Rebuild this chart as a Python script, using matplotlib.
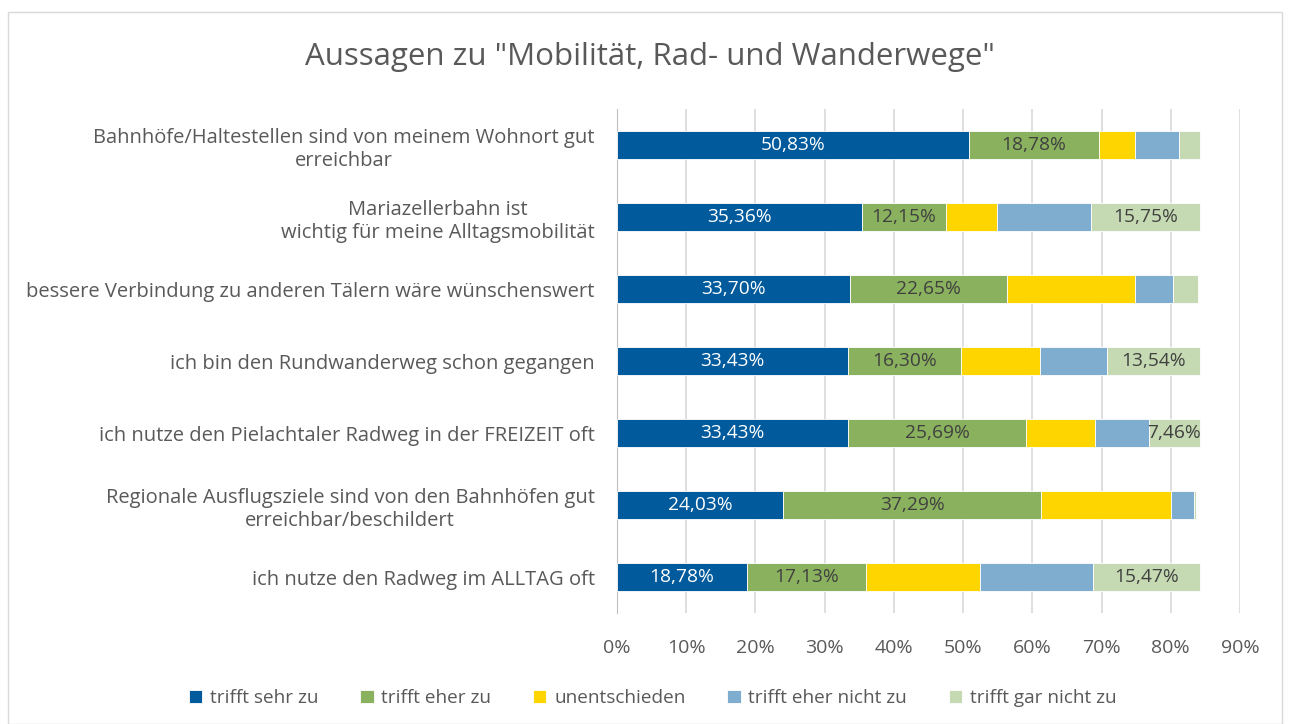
import numpy as np
import matplotlib.pyplot as plt
from matplotlib.patches import Rectangle

# --- DATA ---
categories = [
    "Bahnhöfe/Haltestellen sind von meinem Wohnort gut\nerreichbar",
    "Mariazellerbahn ist\nwichtig für meine Alltagsmobilität",
    "bessere Verbindung zu anderen Tälern wäre wünschenswert",
    "ich bin den Rundwanderweg schon gegangen",
    "ich nutze den Pielachtaler Radweg in der FREIZEIT oft",
    "Regionale Ausflugsziele sind von den Bahnhöfen gut\nerreichbar/beschildert",
    "ich nutze den Radweg im ALLTAG oft",
]
series_names = ["trifft sehr zu", "trifft eher zu", "unentschieden",
                "trifft eher nicht zu", "trifft gar nicht zu"]

sehr_zu = [50.83, 35.36, 33.70, 33.43, 33.43, 24.03, 18.78]
eher_zu = [18.78, 12.15, 22.65, 16.30, 25.69, 37.29, 17.13]
unentschieden = [5.25, 7.46, 18.51, 11.33, 9.94, 18.78, 16.57]
eher_nicht_zu = [6.35, 13.54, 5.52, 9.67, 7.73, 3.31, 16.30]
gar_nicht_zu = [3.04, 15.75, 3.59, 13.54, 7.46, 0.28, 15.47]

# which segments carry a data label (as in the original)
show_labels = [
    [True] * 7,
    [True] * 7,
    [False] * 7,
    [False] * 7,
    [False, True, False, True, True, False, True],
]

colors = ["#005A9C", "#8AB15E", "#FFD500", "#7FADCF", "#C5DAB2"]
label_colors = ["white", "#404040", "#404040", "#404040", "#404040"]

plt.rcParams['font.family'] = ['Open Sans', 'DejaVu Sans']

fig = plt.figure(figsize=(12.9, 7.24), dpi=100)
ax = fig.add_axes([0.4783, 0.1533, 0.4829, 0.6961])

fig.patches.append(Rectangle((0.006, 0.0), 0.988, 0.983, transform=fig.transFigure,
                             fill=False, edgecolor="#D9D9D9", linewidth=1))

y = np.arange(len(categories))
left = np.zeros(len(categories))
all_series = [sehr_zu, eher_zu, unentschieden, eher_nicht_zu, gar_nicht_zu]
for i, vals in enumerate(all_series):
    vals = np.array(vals)
    ax.barh(y, vals, left=left, height=0.39, color=colors[i],
            label=series_names[i], edgecolor="white", linewidth=0.6, zorder=3)
    for j, v in enumerate(vals):
        if show_labels[i][j]:
            ax.text(left[j] + v / 2, y[j], f"{v:.2f}%".replace(".", ","),
                    ha="center", va="center", fontsize=13.8,
                    color=label_colors[i], zorder=4)
    left += vals

ax.set_xlim(0, 90)
ax.set_ylim(len(categories) - 0.5, -0.5)
ax.set_xticks(np.arange(0, 91, 10))
ax.set_xticklabels([f"{t}%" for t in range(0, 91, 10)], fontsize=14, color="#595959")
ax.set_yticks(y)
ax.set_yticklabels(categories, fontsize=14.5, color="#595959", multialignment="center")
ax.tick_params(axis="both", length=0)
ax.tick_params(axis="y", pad=16)
ax.tick_params(axis="x", pad=19)
ax.grid(axis="x", color="#D9D9D9", linewidth=1.2, zorder=0)
for s in ["top", "right", "bottom"]:
    ax.spines[s].set_visible(False)
ax.spines["left"].set_color("#BFBFBF")

fig.text(0.504, 0.921, 'Aussagen zu "Mobilität, Rad- und Wanderwege"',
         ha="center", va="center", fontsize=22.5, color="#595959")

fig.legend(loc="center", bbox_to_anchor=(0.506, 0.036), ncol=5, frameon=False,
           fontsize=13.7, labelcolor="#595959", handlelength=0.7, handleheight=0.7,
           handletextpad=0.4, columnspacing=2.2)

fig.savefig("out.png", dpi=100)
